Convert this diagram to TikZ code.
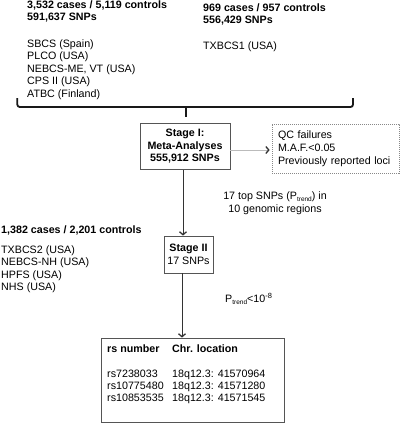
\documentclass[tikz,border=0pt]{standalone}
\usepackage{fontspec}
\setmainfont{Liberation Sans}
\usetikzlibrary{arrows.meta}
\definecolor{bxc}{HTML}{555555}
\definecolor{arc}{HTML}{333333}
\definecolor{lgray}{HTML}{BBBBBB}
\definecolor{dgray}{HTML}{888888}
\newcommand\fsz{\fontsize{10.7}{12.6}\selectfont}
\newcommand\subtr{\raisebox{-2pt}{\fontsize{6.5}{7}\selectfont trend}}
\begin{document}
\begin{tikzpicture}[x=1pt,y=-1pt,
  txt/.style={anchor=base west, inner sep=0, font=\fsz},
  btxt/.style={anchor=base west, inner sep=0, font=\fsz\bfseries},
  ctxt/.style={anchor=base, inner sep=0, font=\fsz},
  bx/.style={draw=bxc, line width=0.8pt, inner sep=0, align=center},
  arr/.style={draw=arc, line width=0.7pt, -{Straight Barb[length=3pt,width=7pt,line width=1.3pt]}},
  garr/.style={draw=lgray, line width=0.8pt, -{Straight Barb[length=3pt,width=7pt,line width=1.3pt,color=arc]}},
  brace/.style={draw=black!90, line width=1.8pt, rounded corners=2.5pt}
]
\useasboundingbox (0,0) rectangle (400,424);

% Stage I cohorts
\node[btxt] (h1a) at (27,8) {3,532 cases / 5,119 controls};
\node[btxt] (h1b) at (27,20.5) {591,637 SNPs};
\node[txt] (c1) at (27,47) {SBCS (Spain)};
\node[txt] (c2) at (27,59.6) {PLCO (USA)};
\node[txt] (c3) at (27,72.2) {NEBCS-ME, VT (USA)};
\node[txt] (c4) at (27,84.8) {CPS II (USA)};
\node[txt] (c5) at (27,97.4) {ATBC (Finland)};

\node[btxt] (h2a) at (203,11) {969 cases / 957 controls};
\node[btxt] (h2b) at (203,23.5) {556,429 SNPs};
\node[txt] (c6) at (203,49) {TXBCS1 (USA)};

% brace
\draw[brace] (17.3,98) |- (353,107) -- (353,98);
\draw[brace] (186,106) -- (186,117);

% Stage I box
\node[bx, minimum width=90, minimum height=46.5, font=\fsz\bfseries] (s1) at (185,146.25)
  {Stage I:\\Meta-Analyses\\555,912 SNPs};

% QC box
\node[draw=dgray, dash pattern=on 1.2pt off 0.8pt, line width=0.7pt, minimum width=127,
  minimum height=49, inner xsep=6pt, inner ysep=0, text width=115pt, align=left,
  font=\fontsize{10.7}{13}\selectfont] (qc) at (335.5,148.5)
  {QC failures\\M.A.F.<0.05\\Previously reported loci};

\draw[garr] ([yshift=-3.75pt]s1.east) -- ([yshift=-3.75pt]s1.east -| qc.west) [shorten >=2pt];

% label 1
\node[ctxt] (l1a) at (275,199) {17 top SNPs (P\subtr) in};
\node[ctxt] (l1b) at (275,212) {10 genomic regions};

% Stage II cohorts
\node[btxt] (h3) at (1,233) {1,382 cases / 2,201 controls};
\node[txt] (d1) at (1,253) {TXBCS2 (USA)};
\node[txt] (d2) at (1,265.5) {NEBCS-NH (USA)};
\node[txt] (d3) at (1,278) {HPFS (USA)};
\node[txt] (d4) at (1,290.5) {NHS (USA)};

% Stage II box
\node[bx, minimum width=49, minimum height=37, font=\fsz] (s2) at (188.5,254.5)
  {\textbf{Stage II}\\17 SNPs};

\draw[arr] ([xshift=-2pt]s1.south) -- ([xshift=-2pt]s1.south |- s2.north);

% label 2
\node[txt] (l2) at (225,302) {P\subtr<10\textsuperscript{-8}};

% table
\node[bx, minimum width=183, minimum height=84] (tb) at (192.5,380) {};
\draw[arr] ([xshift=-6.5pt]s2.south) -- ([xshift=-6.5pt]s2.south |- tb.north);

\node[btxt] (th1) at (107,352) {rs number};
\node[btxt] (th2) at (172,352) {Chr. location};
\node[txt] (r1a) at (107,377.5) {rs7238033};
\node[txt] (r1b) at (172,377.5) {18q12.3: 41570964};
\node[txt] (r2a) at (107,389.3) {rs10775480};
\node[txt] (r2b) at (172,389.3) {18q12.3: 41571280};
\node[txt] (r3a) at (107,401) {rs10853535};
\node[txt] (r3b) at (172,401) {18q12.3: 41571545};
\end{tikzpicture}
\end{document}
